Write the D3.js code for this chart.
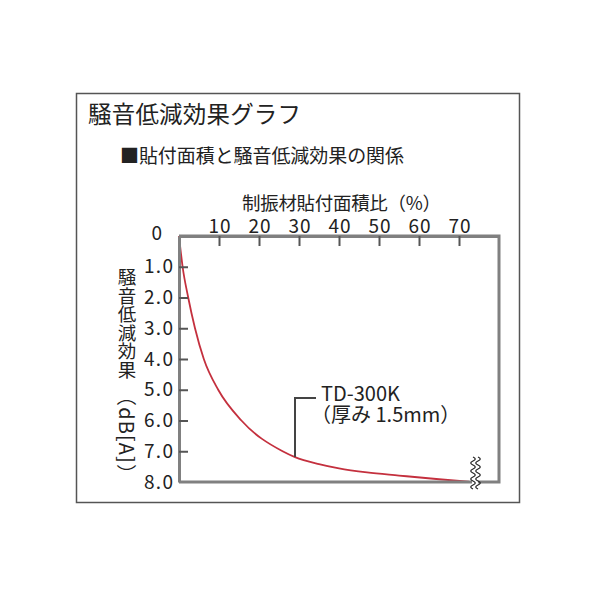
<!DOCTYPE html>
<html><head><meta charset="utf-8">
<script src="https://cdn.jsdelivr.net/npm/d3@7"></script>
<style>
html,body{margin:0;padding:0;background:#fff;}
text{font-family:"Noto Sans CJK JP","Noto Sans",sans-serif;fill:#222;}
</style></head><body>
<svg id="c" width="598" height="598"></svg>
<script>
const title = "騒音低減効果グラフ";
const subtitle = "■貼付面積と騒音低減効果の関係";
const xTitle = "制振材貼付面積比（%）";
const yTitle = "騒音低減効果";
const yUnit = "（dB[A]）";
const xTicks = [10, 20, 30, 40, 50, 60, 70];
const yTicks = [1, 2, 3, 4, 5, 6, 7, 8];
const seriesName = ["TD-300K", "（厚み 1.5mm）"];
const area = [0, 0.9, 2.3, 4.0, 6.2, 9.8, 15.6, 25.9, 29, 35, 40, 47, 55, 65, 72.5];
const reduction = [0, 1.0, 2.0, 3.0, 4.0, 5.0, 6.0, 7.0, 7.19, 7.42, 7.56, 7.69, 7.79, 7.91, 7.99];
const labelAt = 29;

const svg = d3.select("#c");
// outer frame
svg.append("rect").attr("x",76.5).attr("y",93.5).attr("width",443).attr("height",409)
  .attr("fill","none").attr("stroke","#555").attr("stroke-width",1.5);

svg.append("text").attr("x",88).attr("y",123).attr("font-size",23.5)
  .attr("textLength",213).attr("lengthAdjust","spacing").text(title);
svg.append("text").attr("x",120).attr("y",163).attr("font-size",19)
  .attr("textLength",284).attr("lengthAdjust","spacing").text(subtitle);

const x = d3.scaleLinear().domain([0,80]).range([179,499]);
const y = d3.scaleLinear().domain([0,8]).range([236,482]);

// x axis title
svg.append("text").attr("x",242).attr("y",210).attr("font-size",18.5)
  .attr("textLength",199).attr("lengthAdjust","spacing").text(xTitle);

// curve
const line = d3.line().x(d=>x(d[0])).y(d=>y(d[1])).curve(d3.curveMonotoneX);
svg.append("path").datum(area.map((a,i)=>[a,reduction[i]]))
  .attr("d",line).attr("fill","none").attr("stroke","#c4303e").attr("stroke-width",1.8);

// plot box (right and bottom side)
svg.append("path").attr("d",`M${x(0)},${y(0)}H${x(80)}V${y(8)}H${x(0)}`)
  .attr("fill","none").attr("stroke","#808080").attr("stroke-width",3);

// top axis
const gx = svg.append("g").attr("transform",`translate(0,${y(0)})`)
  .call(d3.axisTop(x).tickValues(xTicks).tickSize(-10).tickSizeOuter(0).tickPadding(8).tickFormat(d3.format("d")));
gx.select(".domain").attr("stroke","#808080").attr("stroke-width",3);
gx.selectAll(".tick line").attr("stroke","#555").attr("stroke-width",2);
gx.selectAll(".tick text").attr("font-size",19).attr("fill","#222").attr("dy",0).attr("y",-3)
  .attr("font-family","Noto Sans CJK JP").attr("textLength",22).attr("lengthAdjust","spacing");

// left axis
const gy = svg.append("g").attr("transform",`translate(${x(0)},0)`)
  .call(d3.axisLeft(y).tickValues(yTicks).tickSize(-9).tickSizeOuter(0).tickPadding(6).tickFormat(d3.format(".1f")));
gy.select(".domain").attr("stroke","#808080").attr("stroke-width",3);
gy.selectAll(".tick line").attr("stroke","#555").attr("stroke-width",2)
  .filter(d=>d===8).remove();
gy.selectAll(".tick text").attr("font-size",19).attr("fill","#222").attr("x",-6)
  .attr("font-family","Noto Sans CJK JP").attr("textLength",29).attr("lengthAdjust","spacing");
svg.append("text").attr("x",162).attr("y",y(0)).attr("dy","0.2em").attr("text-anchor","end")
  .attr("font-size",19).text("0");

// y title vertical
svg.append("text").attr("x",127).attr("y",268).attr("font-size",18.5)
  .style("writing-mode","vertical-rl").style("text-orientation","mixed").text(yTitle);
svg.append("text").attr("transform","translate(127,386) rotate(90)")
  .attr("dominant-baseline","central").attr("font-size",20)
  .attr("textLength",98).attr("lengthAdjust","spacing").text(yUnit);

// annotation leader
const lx = x(labelAt), ly = y(7.19);
svg.append("path").attr("d",`M${lx},${ly}V398H316`).attr("fill","none")
  .attr("stroke","#444").attr("stroke-width",2);
svg.append("text").attr("x",321).attr("y",401).attr("font-size",20).text(seriesName[0]);
svg.append("text").attr("x",311).attr("y",422).attr("font-size",20).text(seriesName[1]);

// break mark
function wave(x0){
  let d=`M${x0},457`;
  for(let k=0;k<4;k++){
    const yy=457+k*8;
    d+=` Q${x0+4.5},${yy+2} ${x0},${yy+4} Q${x0-4.5},${yy+6} ${x0},${yy+8}`;
  }
  return d;
}
svg.append("rect").attr("x",472).attr("y",477).attr("width",6).attr("height",8).attr("fill","#fff");
svg.append("path").attr("d",wave(473)).attr("fill","none").attr("stroke","#222").attr("stroke-width",1.3);
svg.append("path").attr("d",wave(478)).attr("fill","none").attr("stroke","#222").attr("stroke-width",1.3);
</script></body></html>
